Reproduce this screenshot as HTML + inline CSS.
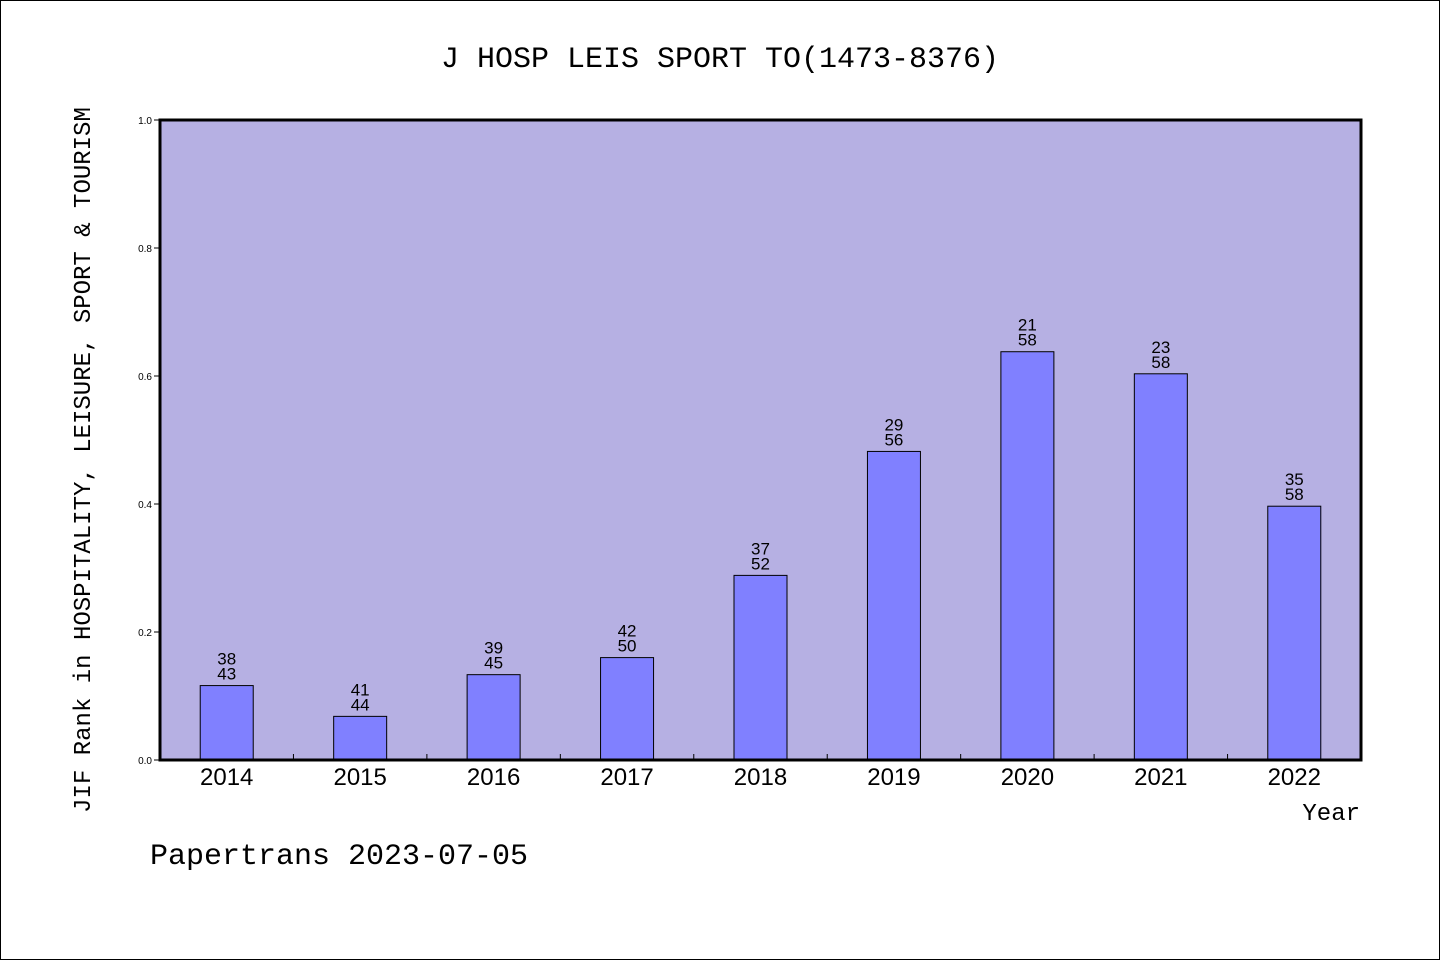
<!DOCTYPE html>
<html><head><meta charset="utf-8"><style>
body{margin:0;background:#fff}
svg{display:block}
</style></head><body>
<svg id="chart" width="1440" height="960" xmlns="http://www.w3.org/2000/svg">
<rect x="0.5" y="0.5" width="1439" height="959" fill="#fff" stroke="#000"/>
<text x="720" y="67" text-anchor="middle" font-family="Liberation Mono, monospace" font-size="30">J HOSP LEIS SPORT TO(1473-8376)</text>
<rect x="160" y="120" width="1201" height="640" fill="#b6b0e3"/>
<g id="bars"></g>
<rect x="160" y="120" width="1201" height="640" fill="none" stroke="#000" stroke-width="3"/>
<text x="90" y="460" transform="rotate(-90 90 460)" text-anchor="middle" font-family="Liberation Mono, monospace" font-size="24">JIF Rank in HOSPITALITY, LEISURE, SPORT &amp; TOURISM</text>
<text x="1360" y="820" text-anchor="end" font-family="Liberation Mono, monospace" font-size="24">Year</text>
<text x="150" y="864" font-family="Liberation Mono, monospace" font-size="30">Papertrans 2023-07-05</text>
</svg>
<script>
const years=["2014","2015","2016","2017","2018","2019","2020","2021","2022"];
const ranks=[38,41,39,42,37,29,21,23,35];
const totals=[43,44,45,50,52,56,58,58,58];
const yTicks=[0,0.2,0.4,0.6,0.8,1.0];
const NS="http://www.w3.org/2000/svg";
const x0=160,w=1201,y0=760,h=640;
const step=w/years.length;
const X=i=>x0+step*(i+0.5);
const Y=v=>y0-v*h;
const g=document.getElementById('bars');
function mk(t,a){const e=document.createElementNS(NS,t);for(const k in a)e.setAttribute(k,a[k]);return e;}
yTicks.forEach(v=>{
 const l=mk('line',{x1:x0-6,x2:x0,y1:Y(v),y2:Y(v),stroke:'#000'});
 
 
 g.appendChild(l);
 const t=mk('text',{x:x0-8,y:Y(v)+4,'text-anchor':'end','font-family':'Liberation Sans, sans-serif','font-size':'10'});
 t.textContent=v.toFixed(1);
 
 
 g.appendChild(t);
});
years.forEach((yr,i)=>{
 const v=(totals[i]-ranks[i])/totals[i];
 const r=mk('rect',{x:X(i)-26.5,y:Y(v),width:53,height:v*h,fill:'#8080ff',stroke:'#000','stroke-width':1});
 
 
 g.appendChild(r);
 const t1=mk('text',{x:X(i),y:Y(v)-21,'text-anchor':'middle','font-family':'Liberation Sans, sans-serif','font-size':'17'});
 t1.textContent=ranks[i];
 
 
 g.appendChild(t1);
 const t2=mk('text',{x:X(i),y:Y(v)-6,'text-anchor':'middle','font-family':'Liberation Sans, sans-serif','font-size':'17'});
 t2.textContent=totals[i];
 
 
 g.appendChild(t2);
 const xl=mk('text',{x:X(i),y:785,'text-anchor':'middle','font-family':'Liberation Sans, sans-serif','font-size':'24'});
 xl.textContent=yr;
 
 
 g.appendChild(xl);
 if(i>0){
  const tk=mk('line',{x1:x0+step*i,x2:x0+step*i,y1:y0,y2:y0-6,stroke:'#000'});
  
  
  g.appendChild(tk);
 }
});
</script>
</body></html>
